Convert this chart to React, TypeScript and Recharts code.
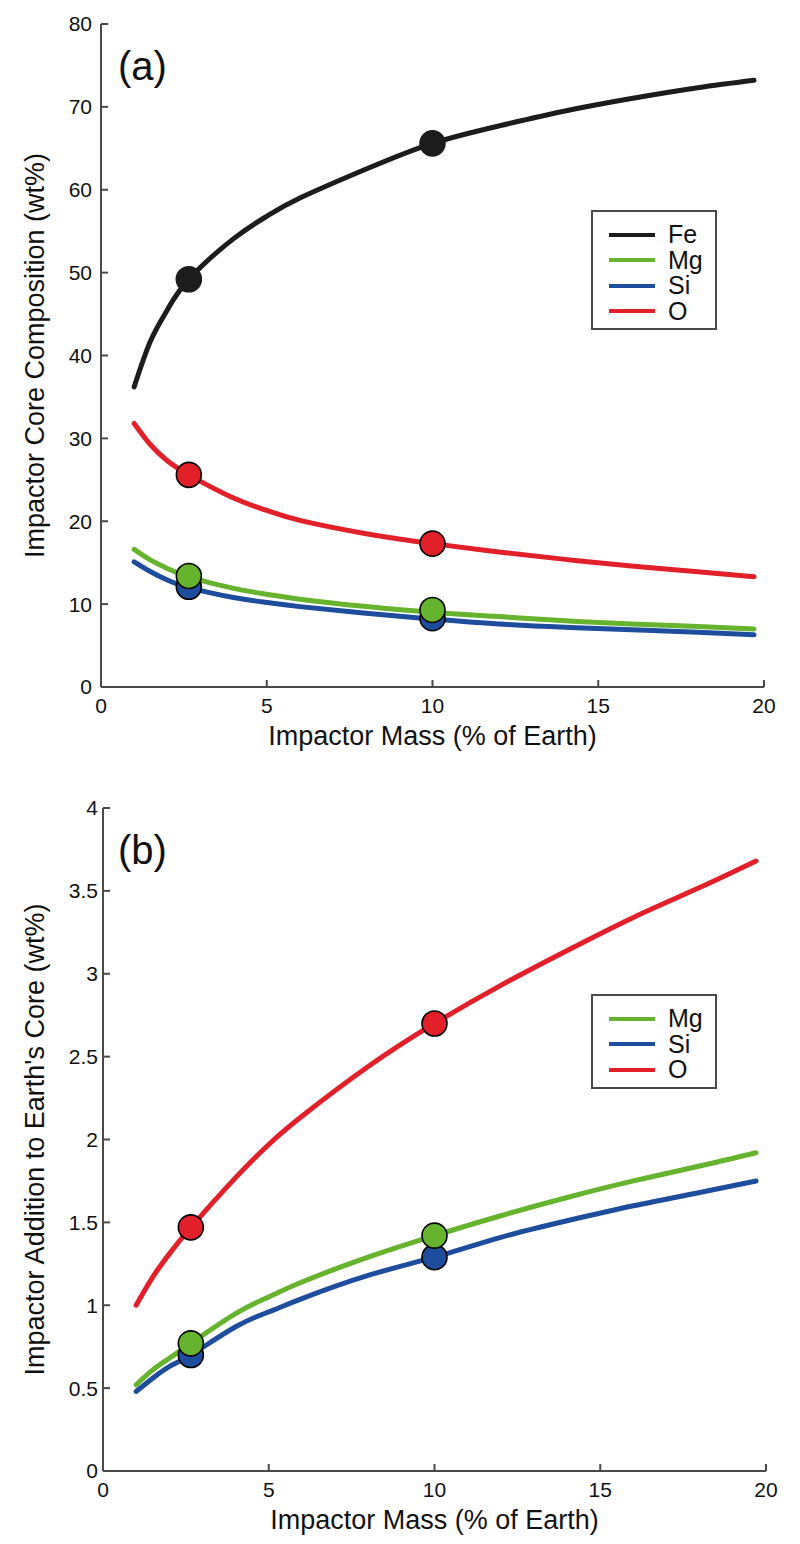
import { ComposedChart, Line, Scatter, XAxis, YAxis, Legend, Customized } from "recharts";

document.body.style.margin = "0";

const FONT = "'Liberation Sans', Arial, Helvetica, sans-serif";
const AXIS = "#4a4a4a";

// impactor mass (% of Earth) sampled along the curves
const massA = [1, 1.5, 2, 2.65, 4, 5, 6, 8, 10, 12, 14, 16, 18, 19.7];
const feA = [36.2, 41.8, 45.5, 49.2, 54.1, 56.8, 59.0, 62.5, 65.6, 67.7, 69.5, 71.0, 72.3, 73.2];
const mgA = [16.6, 15.3, 14.3, 13.3, 11.9, 11.2, 10.6, 9.7, 9.0, 8.5, 8.0, 7.6, 7.3, 7.0];
const siA = [15.1, 13.9, 12.9, 12.0, 10.8, 10.2, 9.7, 8.9, 8.2, 7.6, 7.2, 6.9, 6.6, 6.3];
const oA = [31.8, 29.2, 27.3, 25.6, 22.8, 21.3, 20.1, 18.5, 17.3, 16.3, 15.4, 14.6, 13.9, 13.3];

// highlighted cases
const dotMass = [2.65, 10];
const feDotsA = [49.2, 65.6];
const mgDotsA = [13.4, 9.3];
const siDotsA = [12.1, 8.3];
const oDotsA = [25.6, 17.3];

const massB = [1, 1.5, 2, 2.65, 4, 5, 6, 8, 10, 12, 14, 16, 18, 19.7];
const mgB = [0.52, 0.61, 0.68, 0.77, 0.95, 1.05, 1.14, 1.29, 1.42, 1.54, 1.65, 1.75, 1.84, 1.92];
const siB = [0.48, 0.56, 0.63, 0.7, 0.87, 0.96, 1.04, 1.18, 1.29, 1.41, 1.51, 1.6, 1.68, 1.75];
const oB = [1.0, 1.17, 1.31, 1.47, 1.77, 1.97, 2.14, 2.44, 2.7, 2.93, 3.14, 3.34, 3.52, 3.68];

const mgDotsB = [0.77, 1.42];
const siDotsB = [0.7, 1.29];
const oDotsB = [1.47, 2.7];

const xTicks = [0, 5, 10, 15, 20];
const yTicksA = [0, 10, 20, 30, 40, 50, 60, 70, 80];
const yTicksB = [0, 0.5, 1, 1.5, 2, 2.5, 3, 3.5, 4];

const COLORS: Record<string, string> = { Fe: "#1c1c1c", Mg: "#66b32e", Si: "#1e4d9d", O: "#e2202a" };

const pts = (xs: number[], ys: number[]) => xs.map((x, i) => ({ x, y: ys[i] }));

const dotShape = (fill: string, stroke: string) => (p: any) => (
  <circle cx={p.cx} cy={p.cy} r={12.5} fill={fill} stroke={stroke} strokeWidth={1.6} />
);

function LegendBox({ names }: { names: string[] }) {
  return (
    <div
      style={{
        border: `2px solid ${AXIS}`,
        background: "#fff",
        width: 122,
        padding: "10px 0 4px 0",
        fontFamily: FONT,
        fontSize: 25,
        lineHeight: "25.5px",
        color: "#111",
      }}
    >
      {names.map((n) => (
        <div key={n} style={{ display: "flex", alignItems: "center", height: 25.5 }}>
          <div style={{ width: 46, height: 4, background: COLORS[n], marginLeft: 16, marginRight: 13 }} />
          <span>{n}</span>
        </div>
      ))}
    </div>
  );
}

function Panel({
  tag,
  yLabel,
  yTicks,
  yMax,
  left,
  right,
  series,
  dots,
  legend,
  legendTop,
}: {
  tag: string;
  yLabel: string;
  yTicks: number[];
  yMax: number;
  left: number;
  right: number;
  series: { name: string; data: { x: number; y: number }[] }[];
  dots: { name: string; data: { x: number; y: number }[]; stroke: string }[];
  legend: string[];
  legendTop: number;
}) {
  const tickStyle = { fontSize: 21, fill: "#111", fontFamily: FONT };
  return (
    <ComposedChart width={800} height={760} margin={{ top: 24, right: right, bottom: 0, left: 0 }}>
      <XAxis
        dataKey="x"
        type="number"
        domain={[0, 20]}
        ticks={xTicks}
        allowDataOverflow
        stroke={AXIS}
        strokeWidth={2}
        tickSize={-7}
        tickMargin={18}
        height={73}
        tick={tickStyle}
        label={{ value: "Impactor Mass (% of Earth)", position: "insideBottom", offset: 15, fontSize: 27, fill: "#111", fontFamily: FONT }}
      />
      <XAxis
        xAxisId="top"
        orientation="top"
        type="number"
        domain={[0, 20]}
        ticks={xTicks}
        allowDataOverflow
        stroke={AXIS}
        strokeWidth={2}
        tickSize={-7}
        tick={false}
        height={0}
      />
      <YAxis
        type="number"
        domain={[0, yMax]}
        ticks={yTicks}
        allowDataOverflow
        stroke={AXIS}
        strokeWidth={2}
        tickSize={-7}
        tickMargin={left > 102 ? 12 : 16}
        width={left}
        tick={tickStyle}
        label={{ value: yLabel, angle: -90, position: "center", dx: 34 - left / 2, fontSize: 27, fill: "#111", fontFamily: FONT }}
      />
      <YAxis
        yAxisId="right"
        orientation="right"
        type="number"
        domain={[0, yMax]}
        ticks={yTicks}
        allowDataOverflow
        stroke={AXIS}
        strokeWidth={2}
        tickSize={-7}
        tick={false}
        width={0}
      />
      {series.map((s) => (
        <Line
          key={s.name}
          data={s.data}
          dataKey="y"
          name={s.name}
          type="natural"
          stroke={COLORS[s.name]}
          strokeWidth={5}
          strokeLinecap="round"
          dot={false}
          activeDot={false}
          isAnimationActive={false}
        />
      ))}
      {dots.map((d) => (
        <Scatter
          key={"d" + d.name}
          data={d.data}
          dataKey="y"
          shape={dotShape(COLORS[d.name], d.stroke)}
          legendType="none"
          isAnimationActive={false}
        />
      ))}
      <Customized
        component={() => (
          <text x={118} y={80} fontSize={40} fontFamily={FONT} fill="#111">
            {tag}
          </text>
        )}
      />
      <Legend
        layout="vertical"
        align="center"
        verticalAlign="middle"
        wrapperStyle={{ position: "absolute", left: 591, top: legendTop, width: "auto", height: "auto" }}
        content={() => <LegendBox names={legend} />}
      />
    </ComposedChart>
  );
}

export default function App() {
  return (
    <div style={{ width: 800, height: 1544, background: "#fff", position: "relative" }}>
      <div style={{ position: "absolute", left: 0, top: 0 }}>
        <Panel
          tag="(a)"
          yLabel="Impactor Core Composition (wt%)"
          yTicks={yTicksA}
          yMax={80}
          left={101}
          right={36}
          series={[
            { name: "Si", data: pts(massA, siA) },
            { name: "Mg", data: pts(massA, mgA) },
            { name: "O", data: pts(massA, oA) },
            { name: "Fe", data: pts(massA, feA) },
          ]}
          dots={[
            { name: "Si", data: pts(dotMass, siDotsA), stroke: "#000" },
            { name: "Mg", data: pts(dotMass, mgDotsA), stroke: "#000" },
            { name: "O", data: pts(dotMass, oDotsA), stroke: "#000" },
            { name: "Fe", data: pts(dotMass, feDotsA), stroke: COLORS.Fe },
          ]}
          legend={["Fe", "Mg", "Si", "O"]}
          legendTop={210}
        />
      </div>
      <div style={{ position: "absolute", left: 0, top: 784 }}>
        <Panel
          tag="(b)"
          yLabel="Impactor Addition to Earth's Core (wt%)"
          yTicks={yTicksB}
          yMax={4}
          left={103}
          right={34}
          series={[
            { name: "Si", data: pts(massB, siB) },
            { name: "Mg", data: pts(massB, mgB) },
            { name: "O", data: pts(massB, oB) },
          ]}
          dots={[
            { name: "Si", data: pts(dotMass, siDotsB), stroke: "#000" },
            { name: "Mg", data: pts(dotMass, mgDotsB), stroke: "#000" },
            { name: "O", data: pts(dotMass, oDotsB), stroke: "#000" },
          ]}
          legend={["Mg", "Si", "O"]}
          legendTop={210}
        />
      </div>
    </div>
  );
}
